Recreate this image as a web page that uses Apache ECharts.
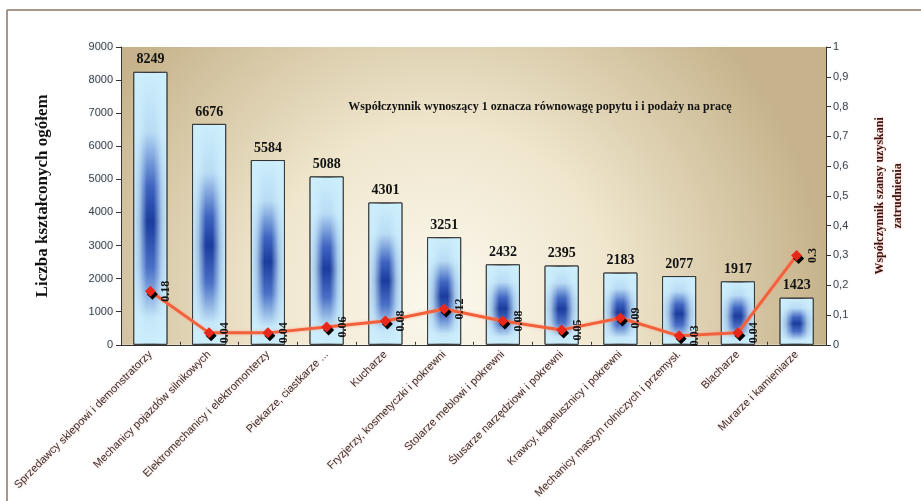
<!DOCTYPE html>
<html>
<head>
<meta charset="utf-8">
<script src="https://cdn.jsdelivr.net/npm/echarts@6/dist/echarts.min.js"></script>
<style>
html,body{margin:0;padding:0;background:#fff;}
#chart{width:921px;height:501px;}
</style>
</head>
<body>
<div id="chart"></div>
<script>
const categories = [
  'Sprzedawcy sklepowi i demonstratorzy',
  'Mechanicy pojazdów silnikowych',
  'Elektromechanicy i elektromonterzy',
  'Piekarze, ciastkarze ...',
  'Kucharze',
  'Fryzjerzy, kosmetyczki i pokrewni',
  'Stolarze meblowi i pokrewni',
  'Ślusarze narzędziowi i pokrewni',
  'Krawcy, kapelusznicy i pokrewni',
  'Mechanicy maszyn rolniczych i przemysł.',
  'Blacharze',
  'Murarze i kamieniarze'
];
const graduates = [8249, 6676, 5584, 5088, 4301, 3251, 2432, 2395, 2183, 2077, 1917, 1423];
const chanceRatio = [0.18, 0.04, 0.04, 0.06, 0.08, 0.12, 0.08, 0.05, 0.09, 0.03, 0.04, 0.3];
const ratioLabels = ['0.18', '0.04', '0.04', '0.06', '0.08', '0.12', '0.08', '0.05', '0.09', '0.03', '0.04', '0.3'];
const leftTicks = [0, 1000, 2000, 3000, 4000, 5000, 6000, 7000, 8000, 9000];
const rightTicks = ['0', '0,1', '0,2', '0,3', '0,4', '0,5', '0,6', '0,7', '0,8', '0,9', '1'];

const chart = echarts.init(document.getElementById('chart'), null, {renderer: 'canvas'});

const light = '#cdeefb';
const dark = '#1b3c9e';

chart.setOption({
  animation: false,
  backgroundColor: '#ffffff',
  graphic: [
    {type: 'line', shape: {x1: 7, y1: 10, x2: 921, y2: 10}, style: {stroke: '#8c7468', lineWidth: 1.5}, z: 100},
    {type: 'line', shape: {x1: 7, y1: 10, x2: 7, y2: 501}, style: {stroke: '#8c7468', lineWidth: 1.5}, z: 100}
  ],
  title: {
    text: 'Współczynnik wynoszący 1 oznacza równowagę popytu i i podaży na pracę',
    left: 535,
    top: 96,
    textAlign: 'center',
    textStyle: {fontFamily: 'Liberation Serif', fontWeight: 'bold', fontSize: 12, color: '#111'}
  },
  grid: {
    left: 121, right: 95, top: 47, bottom: 156,
    show: true,
    borderWidth: 0,
    backgroundColor: {
      type: 'radial', x: 0.45, y: 0.85, r: 1.3,
      colorStops: [
        {offset: 0, color: '#fbf8ee'},
        {offset: 0.45, color: '#efe6cd'},
        {offset: 1, color: '#c6b38b'}
      ]
    }
  },
  xAxis: {
    type: 'category',
    data: categories,
    axisLine: {lineStyle: {color: '#333', width: 1}},
    axisTick: {show: true, inside: true, length: 3, lineStyle: {color: '#333'}},
    axisLabel: {
      interval: 0, rotate: 45, fontSize: 11, fontFamily: 'Liberation Sans', color: '#333', margin: 8,
      textShadowColor: 'rgba(255,140,120,0.55)', textShadowBlur: 3
    }
  },
  yAxis: [
    {
      type: 'value', min: 0, max: 9000, interval: 1000,
      name: 'Liczba kształconych ogółem',
      nameLocation: 'middle', nameGap: 70,
      nameTextStyle: {fontFamily: 'Liberation Serif', fontWeight: 'bold', fontSize: 17, color: '#111'},
      axisLine: {show: true, lineStyle: {color: '#333'}},
      axisTick: {show: true, length: 5, lineStyle: {color: '#333'}},
      splitLine: {show: false},
      axisLabel: {
        fontSize: 11, fontFamily: 'Liberation Sans', color: '#444', margin: 8,
        formatter: function (v) { return String(leftTicks[leftTicks.indexOf(v)]); },
        textShadowColor: 'rgba(170,200,230,0.6)', textShadowBlur: 3
      }
    },
    {
      type: 'value', min: 0, max: 1, interval: 0.1,
      name: 'Współczynnik szansy uzyskani\nzatrudnienia',
      nameLocation: 'middle', nameGap: 45,
      nameTextStyle: {fontFamily: 'Liberation Serif', fontWeight: 'bold', fontSize: 12, color: '#3c1610', lineHeight: 18, align: 'center',
        textShadowColor: 'rgba(255,120,100,0.5)', textShadowBlur: 3},
      axisLine: {show: true, lineStyle: {color: '#333'}},
      axisTick: {show: true, length: 5, lineStyle: {color: '#333'}},
      splitLine: {show: false},
      axisLabel: {
        fontSize: 11, fontFamily: 'Liberation Sans', color: '#444', margin: 7,
        formatter: function (v) { return rightTicks[Math.round(v * 10)]; },
        textShadowColor: 'rgba(170,200,230,0.6)', textShadowBlur: 3
      }
    }
  ],
  series: [
    {
      type: 'bar',
      data: graduates,
      barWidth: '58%',
      itemStyle: {
        borderColor: '#333', borderWidth: 1,
        color: {
          type: 'linear', x: 0, y: 0, x2: 0, y2: 1,
          colorStops: [
            {offset: 0, color: light},
            {offset: 0.22, color: '#b9dcf5'},
            {offset: 0.42, color: '#3e64c0'},
            {offset: 0.55, color: dark},
            {offset: 0.72, color: '#4a70c6'},
            {offset: 0.9, color: '#c4e6f8'},
            {offset: 1, color: light}
          ]
        }
      },
      label: {
        show: true, position: 'top', distance: 5,
        fontFamily: 'Liberation Serif', fontWeight: 'bold', fontSize: 14, color: '#111'
      },
      z: 2
    },
    {
      type: 'bar',
      data: graduates,
      barWidth: '58%',
      barGap: '-100%',
      silent: true,
      itemStyle: {
        borderColor: '#333', borderWidth: 1,
        color: {
          type: 'linear', x: 0, y: 0, x2: 1, y2: 0,
          colorStops: [
            {offset: 0, color: 'rgba(205,238,251,1)'},
            {offset: 0.18, color: 'rgba(205,238,251,0.75)'},
            {offset: 0.4, color: 'rgba(205,238,251,0)'},
            {offset: 0.6, color: 'rgba(205,238,251,0)'},
            {offset: 0.82, color: 'rgba(205,238,251,0.75)'},
            {offset: 1, color: 'rgba(205,238,251,1)'}
          ]
        }
      },
      z: 3
    },
    {
      type: 'line',
      yAxisIndex: 1,
      data: chanceRatio,
      symbol: 'diamond',
      symbolSize: 11,
      lineStyle: {color: '#f2603c', width: 3, shadowColor: 'rgba(255,150,120,0.6)', shadowBlur: 3},
      itemStyle: {color: '#e8281a', shadowColor: '#000', shadowBlur: 0, shadowOffsetX: 2, shadowOffsetY: 3},
      label: {
        show: true, position: 'inside', rotate: 90, offset: [0, 16],
        align: 'center', verticalAlign: 'middle',
        fontFamily: 'Liberation Serif', fontWeight: 'bold', fontSize: 12, color: '#111'
        ,formatter: function (p) { return ratioLabels[p.dataIndex]; }
      },
      z: 5
    }
  ]
});
</script>
</body>
</html>
